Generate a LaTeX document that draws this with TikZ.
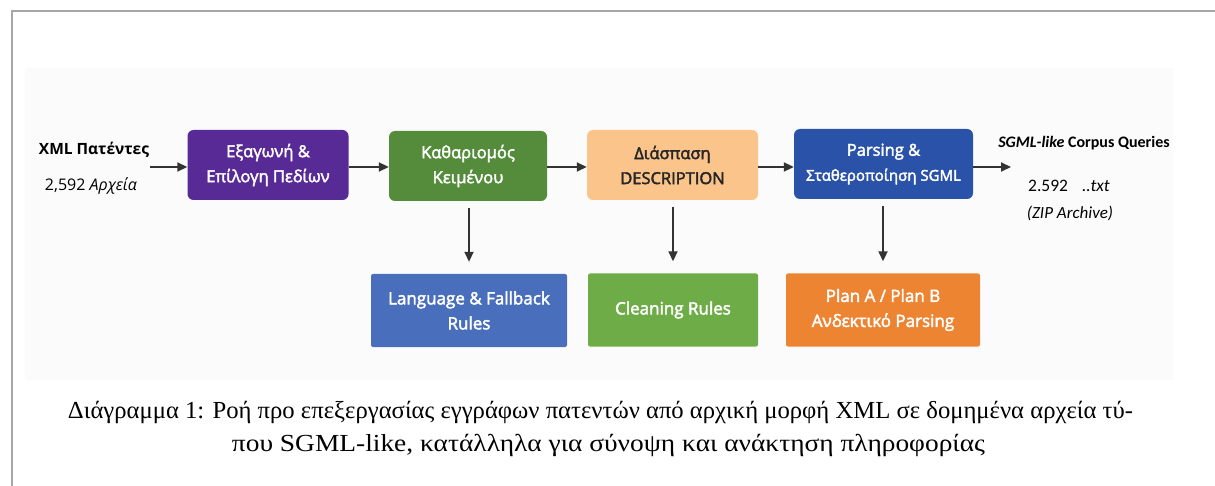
\documentclass[tikz,border=0pt]{standalone}
\usepackage{fontspec}
\usepackage{graphicx}
\setmainfont{Liberation Serif}
\newfontfamily\boxfont{Open Sans}[BoldFont={Open Sans}, BoldFeatures={FakeBold=2.5}]
\newfontfamily\plainsans{Open Sans}
\newfontfamily\labfont{Carlito}
\usetikzlibrary{arrows.meta}
\definecolor{framegray}{RGB}{166,166,166}
\definecolor{bgpanel}{RGB}{251,251,251}
\definecolor{arrowgray}{RGB}{51,51,51}
\definecolor{cpurple}{RGB}{88,42,150}
\definecolor{cdgreen}{RGB}{84,140,60}
\definecolor{clorange}{RGB}{250,196,138}
\definecolor{cblue}{RGB}{42,82,168}
\definecolor{clblue}{RGB}{72,110,188}
\definecolor{clgreen}{RGB}{110,172,72}
\definecolor{corange}{RGB}{236,132,50}
\tikzset{
  mainbox/.style={rounded corners=6pt, minimum height=70pt, align=center, inner sep=0pt,
    font=\boxfont\bfseries\fontsize{16.5}{25}\selectfont, text=white},
  rulebox/.style={rounded corners=2pt, minimum height=73pt, align=center, inner sep=0pt,
    font=\boxfont\bfseries\fontsize{17}{25}\selectfont, text=white},
  flow/.style={draw=arrowgray, line width=1.8pt, -{Triangle[length=10pt,width=9pt]}},
  lab/.style={inner sep=0pt, anchor=center},
}
\begin{document}
\begin{tikzpicture}[x=1pt,y=-1pt]
\useasboundingbox (0,0) rectangle (1215,486);
% frame and panel
\fill[bgpanel] (25,68) rectangle (1173,380);
\draw[framegray, line width=2pt] (12,487) -- (12,11) -- (1216,11);
% input label
\node[lab, font=\plainsans\bfseries\fontsize{15.5}{17}\selectfont] (inA) at (94,150) {XML Πατέντες};
\node[lab, font=\plainsans\fontsize{16}{18}\selectfont] (inB) at (91,186) {2,592 \textit{Αρχεία}};
\coordinate (inEnd) at (150,167);
% main boxes
\node[mainbox, fill=cpurple, minimum width=161pt] (b1) at (268,165) {Εξαγωνή \&\\Επίλογη Πεδίων};
\node[mainbox, fill=cdgreen, minimum width=158pt] (b2) at (468,166) {Καθαριομός\\Κειμένου};
\node[mainbox, fill=clorange, minimum width=171pt, text=black!85] (b3) at (672.5,165) {Διάσπαση\\DESCRIPTION};
\node[mainbox, fill=cblue, minimum width=179pt] (b4) at (883.5,164) {Parsing \&\\{\fontsize{15}{22}\selectfont Σταθεροποίηση SGML}};
% rule boxes
\node[rulebox, fill=clblue, minimum width=196pt] (r1) at (469,310.5) {Language \& Fallback\\Rules};
\node[rulebox, fill=clgreen, minimum width=170pt] (r2) at (673,310) {Cleaning Rules};
\node[rulebox, fill=corange, minimum width=194pt] (r3) at (883,310) {Plan A / Plan B\\Ανδεκτικό Parsing};
% output label
\node[lab, font=\labfont\bfseries\fontsize{16}{18}\selectfont] (outA) at (1084,143) {\textit{SGML-like} Corpus Queries};
\node[lab, font=\labfont\fontsize{17.5}{19}\selectfont] (outB) at (1069,186) {2.592\hspace{14pt}\textit{..txt}};
\node[lab, font=\labfont\itshape\fontsize{17}{19}\selectfont] (outC) at (1070,213) {(ZIP Archive)};
\coordinate (outEnd) at (1011,167);
% connectors
\draw[flow] (inEnd) -- (b1.west |- inEnd);
\draw[flow] (b1.east |- 0,167) -- (b2.west |- 0,167);
\draw[flow] (b2.east |- 0,167) -- (b3.west |- 0,167);
\draw[flow] (b3.east |- 0,167) -- (b4.west |- 0,167);
\draw[flow] (b4.east |- outEnd) -- (outEnd);
\draw[flow] ([yshift=-7pt]b2.south -| r1.north) -- ([yshift=12pt]r1.north);
\draw[flow] ([yshift=-7pt]b3.south -| r2.north) -- ([yshift=12pt]r2.north);
\draw[flow] ([yshift=-7pt]b4.south -| r3.north) -- ([yshift=12pt]r3.north);
% caption
\node[lab, font=\fontsize{24.5}{28}\selectfont] (cap1) at (600.5,412) {\resizebox{1065pt}{\height}{Διάγραμμα 1: Ροή προ επεξεργασίας εγγράφων πατεντών από αρχική μορφή XML σε δομημένα αρχεία τύ-}};
\node[lab, font=\fontsize{24.5}{28}\selectfont] (cap2) at (608.5,445) {\resizebox{753pt}{\height}{που SGML-like, κατάλληλα για σύνοψη και ανάκτηση πληροφορίας}};
\end{tikzpicture}
\end{document}
